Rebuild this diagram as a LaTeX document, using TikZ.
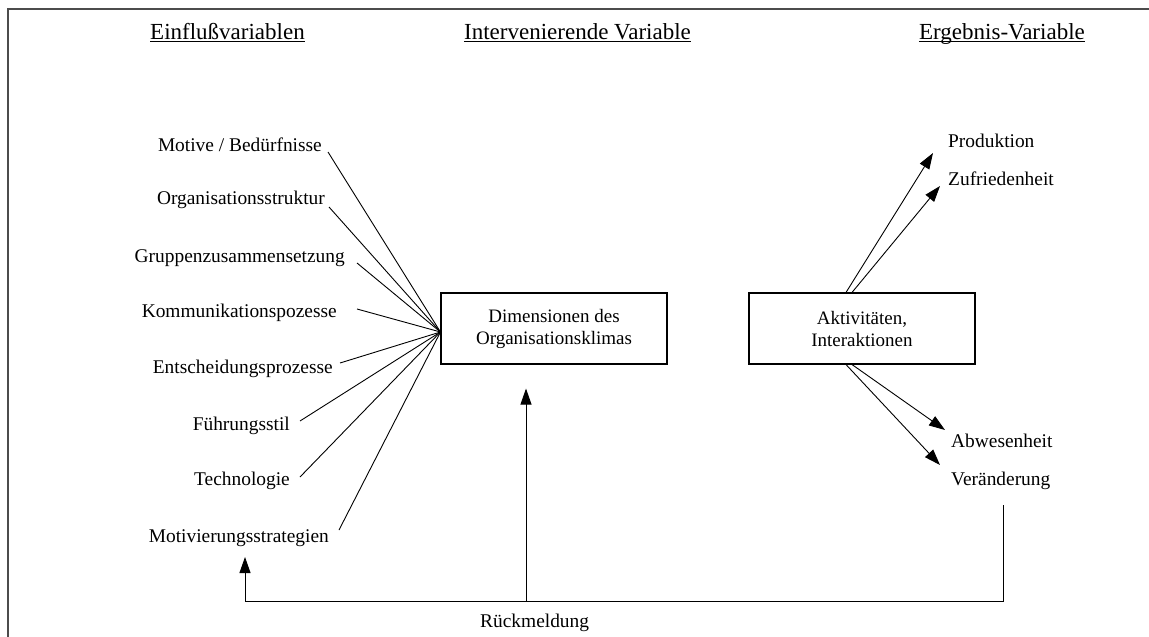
\documentclass[tikz,border=0pt]{standalone}
\usepackage{fontspec}
\setmainfont{Liberation Serif}
\usetikzlibrary{arrows.meta}

\begin{document}
\begin{tikzpicture}[x=1pt,y=-1pt,
  lbl/.style={inner sep=0pt, font=\fontsize{19.4}{22}\selectfont},
  ttl/.style={inner sep=0pt, text depth=2.5pt, font=\fontsize{23}{26}\selectfont},
  box/.style={draw, line width=1.1pt, minimum width=226pt, minimum height=71pt,
              align=center, inner sep=0pt, font=\fontsize{19}{22}\selectfont},
  ln/.style={line width=0.9pt},
  arr/.style={ln, -{Triangle[length=16pt,width=11pt]}}]

\useasboundingbox (0,0) rectangle (1149,637);

% outer frame (left and top edge)
\draw[line width=2pt, draw=black!70] (8,637) -- (8,9) -- (1149,9);

% column headings
\node[ttl, anchor=base] (t1) at (227.5,39) {Einflußvariablen};
\node[ttl, anchor=base] (t2) at (577.5,39) {Intervenierende Variable};
\node[ttl, anchor=base] (t3) at (1002,39) {Ergebnis-Variable};
\foreach \t in {t1,t2,t3} \draw[ln] (\t.south west) -- (\t.south east);

% influencing variables
\node[lbl, anchor=base east] (l1) at (322,151) {Motive / Bedürfnisse};
\node[lbl, anchor=base east] (l2) at (325,204) {Organisationsstruktur};
\node[lbl, anchor=base east] (l3) at (345,262) {Gruppenzusammensetzung};
\node[lbl, anchor=base east] (l4) at (337,317) {Kommunikationspozesse};
\node[lbl, anchor=base east] (l5) at (333,373) {Entscheidungsprozesse};
\node[lbl, anchor=base east] (l6) at (290,430) {Führungsstil};
\node[lbl, anchor=base east] (l7) at (290,485) {Technologie};
\node[lbl, anchor=base east] (l8) at (329,542) {Motivierungsstrategien};

% central boxes
\node[box] (b1) at (554,328.5) {Dimensionen des\\Organisationsklimas};
\node[box] (b2) at (862,328.5) {Aktivitäten,\\Interaktionen};
\coordinate (conv) at ([yshift=-3.5pt]b1.west);

% lines converging on the climate box
\draw[ln] ([shift={(6,1)}]l1.base east) -- (conv);
\draw[ln] ([shift={(4,3)}]l2.base east) -- (conv);
\draw[ln] ([shift={(12,1)}]l3.base east) -- (conv);
\draw[ln] ([shift={(20,-8)}]l4.base east) -- (conv);
\draw[ln] ([shift={(7,-10)}]l5.base east) -- (conv);
\draw[ln] ([shift={(10,-9)}]l6.base east) -- (conv);
\draw[ln] ([shift={(10,-8)}]l7.base east) -- (conv);
\draw[ln] ([shift={(10,-12)}]l8.base east) -- (conv);

% result variables
\node[lbl, anchor=base west] (r1) at (948,147) {Produktion};
\node[lbl, anchor=base west] (r2) at (948,185) {Zufriedenheit};
\node[lbl, anchor=base west] (r3) at (951,447) {Abwesenheit};
\node[lbl, anchor=base west] (r4) at (951,485) {Veränderung};

\draw[arr] ([xshift=-16pt]b2.north) -- ([shift={(-15,6)}]r1.base west);
\draw[arr] ([xshift=-10pt]b2.north) -- ([shift={(-8,1)}]r2.base west);
\draw[arr] ([xshift=-10pt]b2.south) -- ([shift={(-6,-17)}]r3.base west);
\draw[arr] ([xshift=-16pt]b2.south) -- ([shift={(-11,-20)}]r4.base west);

% feedback loop
\coordinate (fbtop) at ([shift={(52,20)}]r4.base west);
\coordinate (fbL) at (245,601);
\coordinate (fbM) at (526,601);
\draw[arr] (fbtop) |- (fbL) -- ([shift={(-84,15)}]l8.base east);
\draw[arr] (fbM) -- ([shift={(-28,24)}]b1.south);
\node[lbl, anchor=base west] (rm) at (480,627) {Rückmeldung};

\end{tikzpicture}
\end{document}
